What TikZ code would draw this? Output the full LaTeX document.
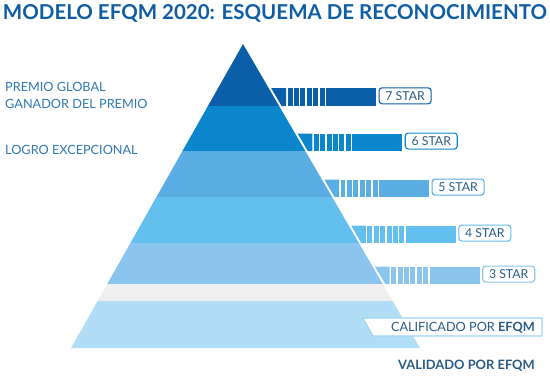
\documentclass[tikz,border=0pt]{standalone}
\usepackage{fontspec}
\setmainfont{Lato}
\definecolor{c1}{HTML}{0B5EA8}
\definecolor{c2}{HTML}{0A87CC}
\definecolor{c3}{HTML}{5AAEE3}
\definecolor{c4}{HTML}{62BFEE}
\definecolor{c5}{HTML}{8BC5EE}
\definecolor{cg}{HTML}{EFEFEF}
\definecolor{c7}{HTML}{B2DDF6}
\definecolor{titlecol}{HTML}{0E5DA5}
\definecolor{leftcol}{HTML}{3177B3}
\definecolor{lblcol}{HTML}{2A5B86}
\definecolor{boxcol}{HTML}{9ED3F3}
\tikzset{
  titletext/.style={inner sep=0pt, text=titlecol, font=\fontsize{20.5}{20.5}\selectfont\bfseries},
  lefttext/.style={inner sep=0pt, anchor=base west, text=leftcol, font=\fontsize{12.7}{12.7}\selectfont},
  starlbl/.style={rounded corners=3pt, line width=1.1pt, fill=white, minimum width=52pt, minimum height=16pt, inner sep=0pt, text=lblcol, font=\fontsize{12.3}{12.3}\selectfont},
  bottomtext/.style={inner sep=0pt, anchor=base east, text=lblcol, font=\fontsize{12.7}{12.7}\selectfont},
}
\begin{document}
\begin{tikzpicture}[x=1pt,y=-1pt]
\useasboundingbox (0,0) rectangle (550,380);
\node[titletext] (title) at (275,13) {MODELO EFQM 2020: ESQUEMA DE RECONOCIMIENTO};
% pyramid bands
\begin{scope}
\clip (243,44) -- (420,348) -- (71,348) -- cycle;
\fill[c1] (60,40) rectangle (430,106);
\fill[c2] (60,106) rectangle (430,151);
\fill[c3] (60,151) rectangle (430,197);
\fill[c4] (60,197) rectangle (430,243);
\fill[c5] (60,243) rectangle (430,284);
\fill[cg] (60,284) rectangle (430,300.7);
\fill[c7] (60,300.7) rectangle (430,349);
\end{scope}
% star bars
\foreach \ya/\yb/\col/\num in {88/106/c1/7, 133.5/151/c2/6, 179.5/197/c3/5, 225.5/243/c4/4, 266.5/284/c5/3} {
  \pgfmathsetmacro\eb{243+0.5822*(\yb-44)}
  \pgfmathsetmacro\ea{243+0.5822*(\ya-44)}
  \fill[\col] ({\ea+2.5},\ya) -- ({\eb+2.5},\yb) -- ({\eb+7},\yb) -- ({\eb+7},\ya) -- cycle;
  \foreach \k in {0,...,5} {
    \fill[\col] ({\eb+8.5+\k*6.42},\ya) rectangle ({\eb+13.42+\k*6.42},\yb);
  }
  \fill[\col] ({\eb+46.8},\ya) rectangle ({\eb+97},\yb);
  \node[starlbl, draw=\col] (s\num) at ({\eb+126},{(\ya+\yb)/2-1.2}) {\num\ STAR};
}
% left labels
\node[lefttext] (premio) at (5,91) {PREMIO GLOBAL};
\node[lefttext] (ganador) at (5,108) {GANADOR DEL PREMIO};
\node[lefttext] (logro) at (5,154) {LOGRO EXCEPCIONAL};
% calificado box
\filldraw[fill=white, draw=boxcol, line width=1.1pt] (363,318) -- (542,318) -- (542,336) -- (373,336) -- cycle;
\node[bottomtext] (calif) at (535,331) {CALIFICADO POR \textbf{EFQM}};
\node[bottomtext, font=\fontsize{12.9}{12.9}\selectfont\bfseries] (valid) at (535,369) {VALIDADO POR EFQM};
\end{tikzpicture}
\end{document}
